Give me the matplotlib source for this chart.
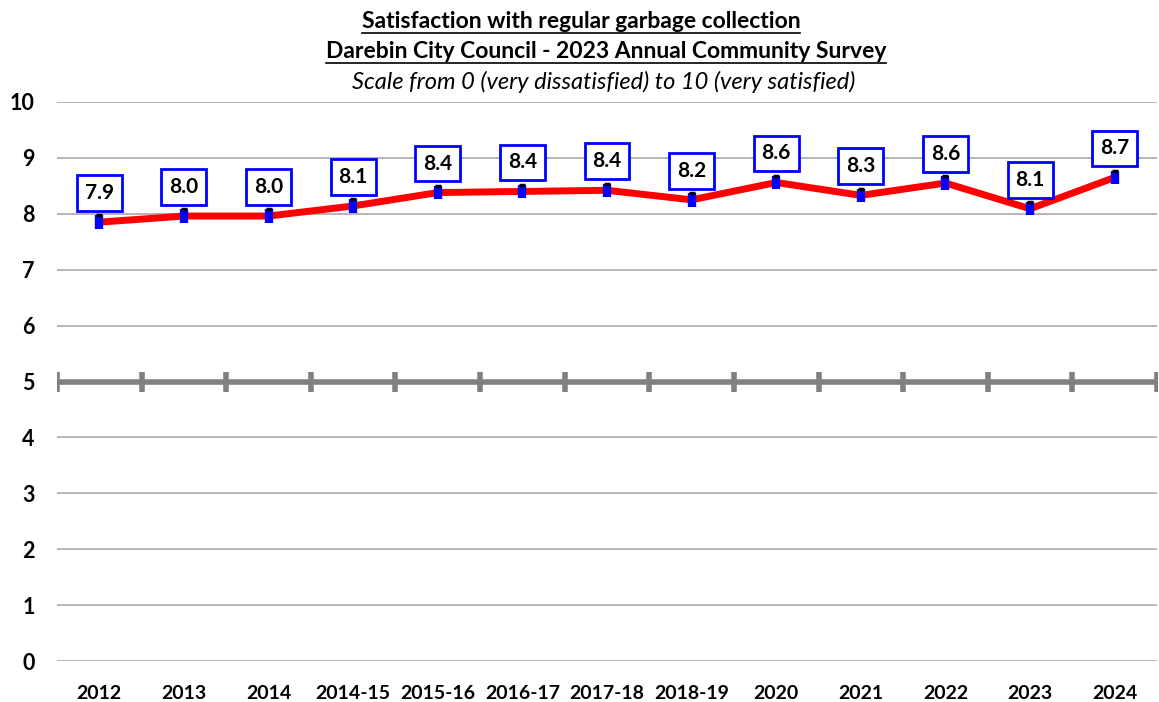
import matplotlib
matplotlib.use("Agg")
import matplotlib.pyplot as plt

categories = ["2012", "2013", "2014", "2014-15", "2015-16", "2016-17", "2017-18",
              "2018-19", "2020", "2021", "2022", "2023", "2024"]
values = [7.85, 7.96, 7.96, 8.14, 8.38, 8.40, 8.42, 8.25, 8.56, 8.33, 8.55, 8.09, 8.65]
labels = ["7.9", "8.0", "8.0", "8.1", "8.4", "8.4", "8.4", "8.2", "8.6", "8.3", "8.6", "8.1", "8.7"]
ci = [0.12] * len(values)
yticks = list(range(0, 11))

FONT = "Lato"
W, H = 1159, 702
fig = plt.figure(figsize=(W / 100, H / 100), dpi=100)
ax = fig.add_axes([57 / W, 41 / H, 1100 / W, (661 - 102) / H])

x = list(range(len(categories)))
ax.set_xlim(-0.5, len(categories) - 0.5)
ax.set_ylim(0, 10)

for t in yticks:
    if t == 5:
        continue
    ax.axhline(t, color="#b0b0b0", lw=1.3, zorder=1)
ax.axhline(5, color="#808080", lw=4, zorder=1)
bounds = [i - 0.5 for i in range(len(categories) + 1)]
ax.plot(bounds, [5] * len(bounds), ls="none", marker="|", ms=14, mew=4, color="#808080", zorder=1)

ax.plot(x, values, color="red", lw=5, zorder=3, solid_joinstyle="round")
ax.errorbar(x, values, yerr=ci, fmt="none", ecolor="blue", elinewidth=6, capsize=0, zorder=4)
tops = [v + c for v, c in zip(values, ci)]
ax.plot(x, tops, ls="none", marker="_", ms=5, mew=2.5, color="black", zorder=4.5)

for xi, v, lab in zip(x, values, labels):
    ax.annotate(lab, (xi, v), xytext=(0, 29), textcoords="offset pixels",
                ha="center", va="center", fontsize=15, fontweight="bold", family=FONT,
                bbox=dict(boxstyle="square,pad=0.38", fc="white", ec="blue", lw=2), zorder=5)

ax.set_xticks(x)
ax.set_xticklabels(categories, fontsize=14, fontweight="bold", family=FONT)
ax.set_yticks(yticks)
ax.set_yticklabels([str(t) for t in yticks], fontsize=15.5, fontweight="bold", family=FONT)
ax.tick_params(axis="both", length=0)
ax.tick_params(axis="x", pad=17)
ax.tick_params(axis="y", pad=16)
for s in ax.spines.values():
    s.set_visible(False)

t1 = fig.text(581 / W, 1 - 21 / H, "Satisfaction with regular garbage collection",
              ha="center", va="center", fontsize=16.5, fontweight="bold", family=FONT)
t2 = fig.text(606 / W, 1 - 51 / H, "Darebin City Council - 2023 Annual Community Survey",
              ha="center", va="center", fontsize=16.5, fontweight="bold", family=FONT)
fig.text(604 / W, 1 - 82 / H, "Scale from 0 (very dissatisfied) to 10 (very satisfied)",
         ha="center", va="center", fontsize=17, style="italic", family=FONT)

fig.canvas.draw()
r = fig.canvas.get_renderer()
for t in (t1, t2):
    bb = t.get_window_extent(r)
    yline = (bb.y0 - 1) / H
    fig.add_artist(matplotlib.lines.Line2D([bb.x0 / W, bb.x1 / W], [yline, yline],
                                           color="black", lw=1.2))

fig.savefig("out.png", dpi=100)
